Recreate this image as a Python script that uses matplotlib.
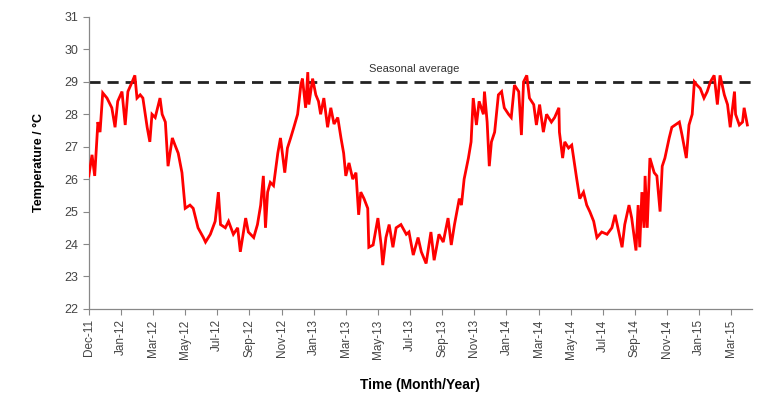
import matplotlib
matplotlib.use("Agg")
import matplotlib.pyplot as plt

plt.rcParams['font.family'] = ['Liberation Sans', 'DejaVu Sans']

# days since 1 Dec 2011
days = [0, 6, 11, 17, 21, 26, 34, 43, 49, 54, 62, 68, 73, 81, 86, 90, 96, 101, 109, 114,
        118, 124, 133, 137, 143, 148, 156, 161, 167, 174, 180, 189, 195, 204, 214, 218, 227,
        236, 242, 246, 255, 261, 270, 278, 283, 293, 298, 308, 315, 321, 326, 330, 334, 339,
        345, 353, 358, 366, 371, 377, 383, 390, 396, 399, 405, 409, 411, 418, 424, 429, 433,
        439, 446, 452, 458, 465, 471, 476, 480, 486, 493, 499, 504, 508, 514, 521, 523, 531,
        540, 546, 549, 555, 561, 568, 574, 583, 593, 598, 606, 615, 621, 630, 639, 645, 654,
        662, 671, 677, 683, 692, 696, 701, 709, 714, 718, 724, 729, 737, 739, 744, 748, 752,
        758, 765, 771, 776, 784, 789, 795, 803, 808, 812, 818, 823, 831, 836, 842, 849, 855,
        864, 870, 878, 879, 885, 889, 896, 902, 911, 917, 924, 930, 936, 943, 949, 958, 968,
        977, 983, 990, 996, 1001, 1009, 1014, 1022, 1026, 1029, 1033, 1037, 1039, 1043, 1048,
        1056, 1061, 1067, 1071, 1076, 1084, 1089, 1095, 1103, 1108, 1116, 1121, 1127, 1131,
        1136, 1142, 1149, 1155, 1161, 1168, 1174, 1179, 1187, 1193, 1198, 1206, 1208, 1215,
        1221, 1224, 1230]
temps = [26.1, 26.75, 26.1, 27.76, 27.45, 28.66, 28.5, 28.2, 27.6, 28.4, 28.7, 27.67, 28.7,
         29.0, 29.2, 28.5, 28.6, 28.5, 27.6, 27.15, 28.0, 27.9, 28.5, 28.0, 27.76, 26.4, 27.27,
         27.05, 26.8, 26.2, 25.1, 25.2, 25.1, 24.5, 24.2, 24.06, 24.3, 24.7, 25.6, 24.6, 24.5,
         24.7, 24.3, 24.5, 23.76, 24.8, 24.37, 24.2, 24.6, 25.2, 26.1, 24.5, 25.6, 25.9, 25.8,
         26.8, 27.27, 26.2, 26.96, 27.27, 27.6, 28.0, 28.9, 29.1, 28.2, 29.3, 28.3, 29.1, 28.6,
         28.4, 28.0, 28.5, 27.6, 28.2, 27.7, 27.9, 27.27, 26.8, 26.1, 26.5, 26.0, 26.2, 24.9,
         25.6, 25.4, 25.1, 23.9, 23.97, 24.8, 23.97, 23.35, 24.2, 24.6, 23.9, 24.5, 24.6, 24.3,
         24.37, 23.66, 24.2, 23.76, 23.4, 24.37, 23.5, 24.3, 24.06, 24.8, 23.97, 24.6, 25.4,
         25.2, 26.0, 26.65, 27.15, 28.5, 27.67, 28.4, 28.0, 28.7, 27.76, 26.4, 27.15, 27.45,
         28.6, 28.7, 28.2, 28.0, 27.9, 28.9, 28.7, 27.36, 29.0, 29.2, 28.5, 28.3, 27.67, 28.3,
         27.45, 28.0, 27.76, 27.9, 28.2, 27.45, 26.65, 27.15, 26.96, 27.05, 26.04, 25.4, 25.6,
         25.2, 24.99, 24.7, 24.2, 24.37, 24.3, 24.5, 24.9, 24.37, 23.9, 24.6, 25.2, 24.8, 23.8,
         25.2, 23.9, 25.6, 24.5, 26.1, 24.5, 26.65, 26.2, 26.1, 25.0, 26.4, 26.65, 27.27, 27.6,
         27.67, 27.76, 27.36, 26.65, 27.67, 28.0, 29.0, 28.9, 28.8, 28.5, 28.7, 29.0, 29.2,
         28.3, 29.2, 28.6, 28.3, 27.6, 28.7, 28.0, 27.67, 27.76, 28.2, 27.67]

tick_days = [0, 60, 120, 180, 240, 300, 360, 420, 480, 540, 600, 660, 720, 780, 840,
             900, 960, 1020, 1080, 1140, 1200]
tick_labels = ['Dec-11', 'Jan-12', 'Mar-12', 'May-12', 'Jul-12', 'Sep-12', 'Nov-12',
               'Jan-13', 'Mar-13', 'May-13', 'Jul-13', 'Sep-13', 'Nov-13', 'Jan-14',
               'Mar-14', 'May-14', 'Jul-14', 'Sep-14', 'Nov-14', 'Jan-15', 'Mar-15']
seasonal_average = 29
avg_label = 'Seasonal average'
avg_label_day = 607

fig = plt.figure(figsize=(7.59, 3.95), dpi=100)
ax = fig.add_axes([0.117, 0.218, 0.874, 0.739])

ax.plot(days, temps, color='#ff0000', lw=2.0, zorder=3, solid_joinstyle='miter')
ax.axhline(seasonal_average, color='#222222', lw=2.0, ls=(0, (4, 2.5)), zorder=2)
ax.text(avg_label_day, seasonal_average + 0.25, avg_label, ha='center', va='bottom',
        fontsize=8, color='#333333')

ax.set_xlim(0, 1239)
ax.set_ylim(22, 31)
ax.set_yticks(range(22, 32))
ax.set_xticks(tick_days)
ax.set_xticklabels(tick_labels, rotation=90, fontsize=8.5, color='#444444')
ax.tick_params(axis='y', labelsize=9, labelcolor='#444444', color='#888888', length=4, width=0.8)
ax.tick_params(axis='x', length=4, width=0.8, color='#888888')
for s in ['top', 'right']:
    ax.spines[s].set_visible(False)
for s in ['left', 'bottom']:
    ax.spines[s].set_color('#888888')
    ax.spines[s].set_linewidth(0.9)

ax.set_ylabel('Temperature / °C', fontsize=9, fontweight='bold', labelpad=14)
ax.set_xlabel('Time (Month/Year)', fontsize=10, fontweight='bold', labelpad=14)

fig.savefig('out.png', dpi=100)
